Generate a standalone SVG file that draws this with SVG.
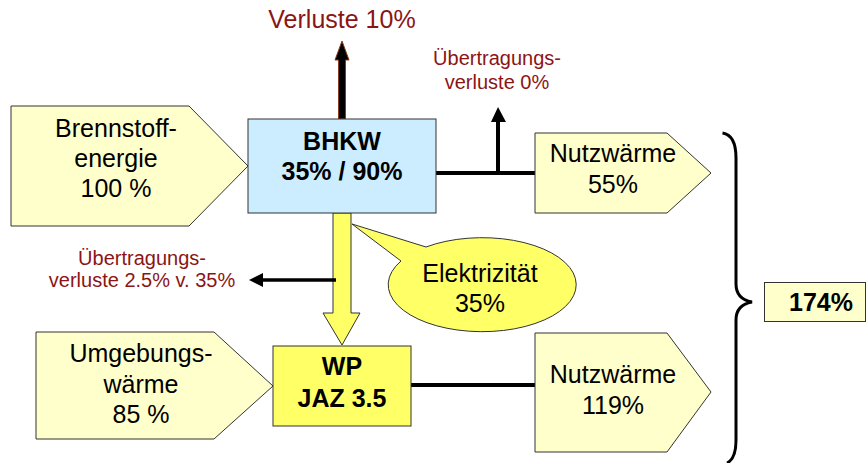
<svg xmlns="http://www.w3.org/2000/svg" width="867" height="463" viewBox="0 0 867 463">
<style>
.pent{fill:#FFFFCC;stroke:#333;stroke-width:1}
.t{font-family:"Liberation Sans",Arial,sans-serif;font-size:25px;fill:#000;text-anchor:middle}
.b{font-weight:bold}
.red{font-family:"Liberation Sans",Arial,sans-serif;font-size:20px;fill:#8B1515;text-anchor:middle}
.ln{stroke:#000;stroke-width:4;fill:none}
</style>
<rect width="867" height="463" fill="#fff"/>
<g id="connectors">
  <!-- Verluste arrow -->
  <path d="M338.5,119 L338.5,60 L335,60 L342,41 L349,60 L345.5,60 L345.5,119 Z" fill="#000" stroke="#8B3A1A" stroke-width="1"/>
  <!-- BHKW to Nutzwaerme 55 -->
  <line class="ln" x1="436" y1="173" x2="535" y2="173"/>
  <line class="ln" x1="498" y1="173" x2="498" y2="121"/>
  <polygon points="498,107 491,122 506,122" fill="#000"/>
  <!-- yellow arrow BHKW to WP -->
  <path d="M333,213 L351,213 L351,313 L360,313 L342,345 L323,313 L333,313 Z" fill="#FFFF66" stroke="#333" stroke-width="1"/>
  <!-- losses arrow left -->
  <line x1="336" y1="280" x2="262" y2="280" stroke="#000" stroke-width="3.5"/>
  <polygon points="249,280 263,273 263,287" fill="#000"/>
  <!-- WP to Nutzwaerme 119 -->
  <line class="ln" x1="411" y1="385" x2="535" y2="385"/>
  <!-- brace -->
  <path d="M722.5,133 Q736,135 736,158 L736,284 Q736,299 752,302 Q736,305 736,320 L736,440 Q736,459 727,463" fill="none" stroke="#000" stroke-width="3"/>
</g>
<g id="brennstoff">
  <polygon class="pent" points="11,106 189,106 248,166 189,226 11,226"/>
  <text class="t" x="116" y="137">Brennstoff-</text>
  <text class="t" x="116" y="167">energie</text>
  <text class="t" x="116" y="197">100 %</text>
</g>
<g id="bhkw">
  <rect x="248" y="119" width="188" height="94" fill="#CCECFF" stroke="#333" stroke-width="1"/>
  <text class="t b" x="342" y="150">BHKW</text>
  <text class="t b" x="342" y="180">35% / 90%</text>
</g>
<g id="verluste">
  <text class="t" x="342" y="28" style="fill:#8B1515">Verluste 10%</text>
</g>
<g id="uebertragung0">
  <text class="red" x="497" y="65">Übertragungs-</text>
  <text class="red" x="497" y="89">verluste 0%</text>
</g>
<g id="nutz55">
  <polygon class="pent" points="535,133 667,133 711,173 667,213 535,213"/>
  <text class="t" x="613" y="162">Nutzwärme</text>
  <text class="t" x="613" y="193">55%</text>
</g>
<g id="elektrizitaet">
  <path d="M426,247 L352,224 L401,261 A94,47 0 1 0 426,247 Z" fill="#FFFF66" stroke="#333" stroke-width="1"/>
  <text class="t" x="480" y="282">Elektrizität</text>
  <text class="t" x="480" y="312">35%</text>
</g>
<g id="uebertragung25">
  <text class="red" x="142" y="265">Übertragungs-</text>
  <text class="red" x="142" y="287">verluste 2.5% v. 35%</text>
</g>
<g id="umgebung">
  <polygon class="pent" points="36,332 214,332 273,386 214,439 36,439"/>
  <text class="t" x="141" y="362">Umgebungs-</text>
  <text class="t" x="141" y="393">wärme</text>
  <text class="t" x="141" y="423">85 %</text>
</g>
<g id="wp">
  <rect x="273" y="346" width="138" height="80" fill="#FFFF66" stroke="#333" stroke-width="1"/>
  <text class="t b" x="342" y="375">WP</text>
  <text class="t b" x="342" y="407">JAZ 3.5</text>
</g>
<g id="nutz119">
  <polygon class="pent" points="535,333 667,333 711,392 667,452 535,452"/>
  <text class="t" x="613" y="383">Nutzwärme</text>
  <text class="t" x="613" y="414">119%</text>
</g>
<g id="total">
  <rect x="764.5" y="282.5" width="101" height="39" fill="#FFFFCC" stroke="#333" stroke-width="1"/>
  <text class="t b" x="821" y="311">174%</text>
</g>
</svg>
